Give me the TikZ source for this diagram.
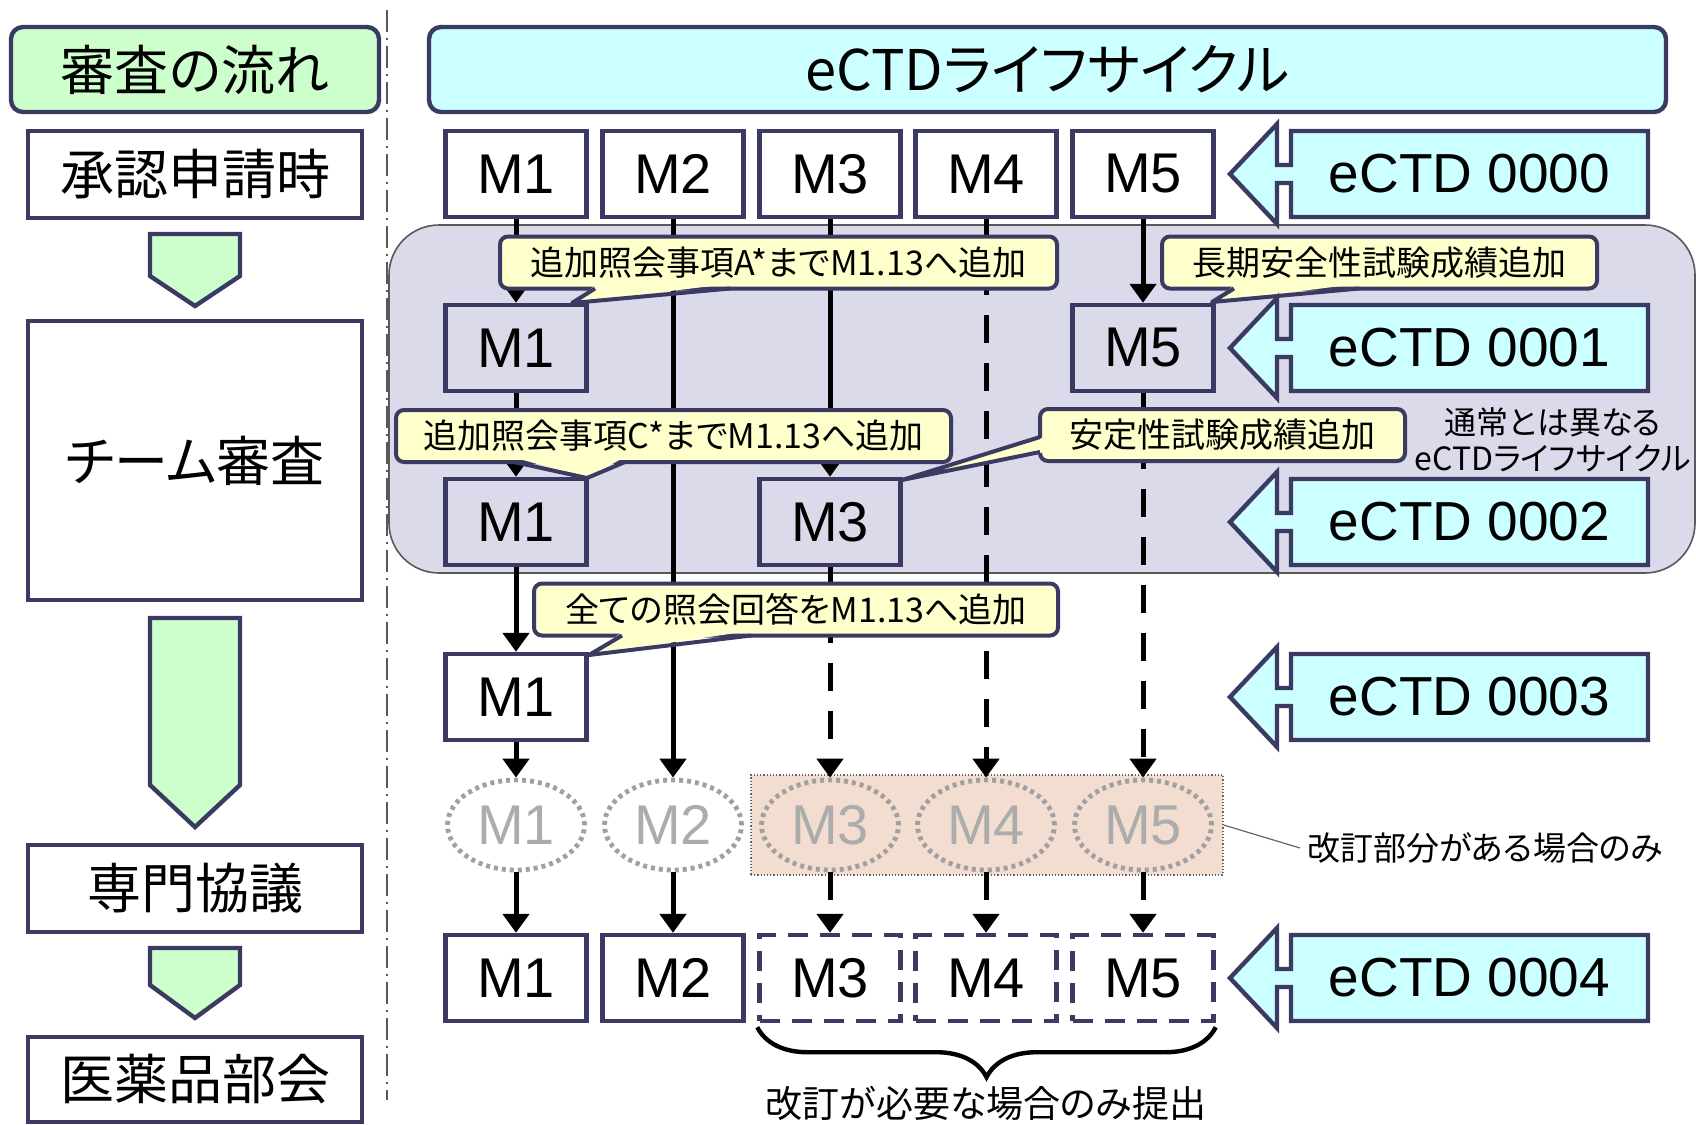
\documentclass[tikz,border=0pt]{standalone}
\usepackage{fontspec}
\setmainfont{Liberation Sans}
\newfontfamily\jp[RawFeature=+palt]{Noto Sans CJK JP}
\usetikzlibrary{arrows.meta,shapes.geometric,decorations.pathreplacing}

\definecolor{navy}{RGB}{58,58,98}
\definecolor{flowgreen}{RGB}{204,255,204}
\definecolor{lifecyan}{RGB}{204,255,255}
\definecolor{notefill}{RGB}{255,255,204}
\definecolor{regionfill}{RGB}{218,218,234}
\definecolor{bandfill}{RGB}{242,221,208}
\definecolor{ghostline}{RGB}{160,160,160}
\definecolor{ghosttext}{RGB}{172,172,172}

\begin{document}
\begin{tikzpicture}[x=0.5pt, y=-0.5pt]
        \tikzset{
            flowbox/.style={draw=navy, line width=2.2pt, fill=white, minimum width=167pt,
                inner sep=0pt, font=\jp\fontsize{27pt}{27pt}\selectfont},
            headbox/.style={flowbox, rounded corners=6pt, minimum height=42.5pt},
            flowarrow/.style={draw=navy, fill=flowgreen, line width=2.2pt},
            modbox/.style={draw=navy, line width=2.2pt, minimum width=70.5pt, minimum height=43pt,
                inner sep=0pt, font=\fontsize{28pt}{28pt}\selectfont},
            modboxdashed/.style={modbox, dash pattern=on 10pt off 6pt},
            ghost/.style={ellipse, draw=ghostline, line width=2.4pt, dash pattern=on 2pt off 2pt,
                text=ghosttext, minimum width=68.5pt, minimum height=45pt, inner sep=0pt,
                font=\fontsize{28pt}{28pt}\selectfont},
            link/.style={draw=black, line width=2.5pt, -{Triangle[width=13pt,length=9.5pt]}},
            linkdashed/.style={link, dash pattern=on 14pt off 10pt},
            note/.style={draw=navy, line width=2pt, fill=notefill, rounded corners=4pt,
                minimum height=26pt, inner sep=0pt, font=\jp\fontsize{17pt}{17pt}\selectfont},
            notelink/.style={draw=navy, line width=2pt, line join=round},
            tagshape/.style={draw=navy, fill=lifecyan, line width=2.2pt},
            taglabel/.style={font=\fontsize{27.5pt}{27.5pt}\selectfont},
            ectdtag/.pic={
                \draw[tagshape] (0,0) -- (47,-50) -- (47,-9) -- (61,-9) -- (61,-43) -- (418,-43)
                    -- (418,43) -- (61,43) -- (61,9) -- (47,9) -- (47,50) -- cycle;
            },
            region/.style={draw=black!65, line width=0.8pt, fill=regionfill, rounded corners=25pt},
            band/.style={draw=black!60, line width=0.6pt, densely dotted, fill=bandfill,
                minimum width=236pt, minimum height=50pt, inner sep=0pt},
            leader/.style={draw=black!60, line width=0.6pt},
            sidenote/.style={align=center, font=\jp\fontsize{16pt}{18pt}\selectfont},
            bracenote/.style={font=\jp\fontsize{18.5pt}{18.5pt}\selectfont},
            separator/.style={draw=black!65, line width=1.3pt, dash pattern=on 11pt off 3pt on 1pt off 3pt},
            braceline/.style={draw=black, line width=2.2pt, decorate,
                decoration={brace, mirror, amplitude=25pt}}
        }

        \useasboundingbox (0,0) rectangle (1696,1124);

        % background areas
        \draw[region] (389,225) rectangle (1695,573);
        \node[band] (revband) at (987,825) {};
        \draw[separator] (387,10) -- (387,1100);

        % review flow
        \node[headbox, fill=flowgreen, minimum width=184pt] (flowTitle) at (195,69.5) {審査の流れ};
        \node[flowbox, minimum height=43.5pt] (filing) at (195,174.5) {承認申請時};
        \node[flowbox, minimum height=139.5pt] (teamReview) at (195,460.5) {チーム審査};
        \node[flowbox, minimum height=43.5pt] (expert) at (195,888.5) {専門協議};
        \node[flowbox, minimum height=42.5pt] (council) at (195,1079.5) {医薬品部会};
        \draw[flowarrow] (150,234) -- (240,234) -- (240,276) -- (195,306) -- (150,276) -- cycle;
        \draw[flowarrow] (150,618) -- (240,618) -- (240,785) -- (195,827) -- (150,785) -- cycle;
        \draw[flowarrow] (150,948) -- (240,948) -- (240,985) -- (195,1018) -- (150,985) -- cycle;

        % eCTD lifecycle
        \node[headbox, fill=lifecyan, minimum width=618.5pt, font=\jp\fontsize{28pt}{28pt}\selectfont]
            (cycleTitle) at (1047.5,69.5) {eCTDライフサイクル};

        \node[modbox] (m1v0) at (516,174) {M1};
        \node[modbox] (m2v0) at (673,174) {M2};
        \node[modbox] (m3v0) at (830,174) {M3};
        \node[modbox] (m4v0) at (986,174) {M4};
        \node[modbox] (m5v0) at (1143,174) {M5};
        \node[modbox] (m1v1) at (516,348) {M1};
        \node[modbox] (m5v1) at (1143,348) {M5};
        \node[modbox] (m1v2) at (516,522) {M1};
        \node[modbox] (m3v2) at (830,522) {M3};
        \node[modbox] (m1v3) at (516,697) {M1};
        \node[ghost] (m1r) at (516,825) {M1};
        \node[ghost] (m2r) at (673,825) {M2};
        \node[ghost] (m3r) at (830,825) {M3};
        \node[ghost] (m4r) at (986,825) {M4};
        \node[ghost] (m5r) at (1143,825) {M5};
        \node[modbox] (m1v4) at (516,978) {M1};
        \node[modbox] (m2v4) at (673,978) {M2};
        \node[modboxdashed] (m3v4) at (830,978) {M3};
        \node[modboxdashed] (m4v4) at (986,978) {M4};
        \node[modboxdashed] (m5v4) at (1143,978) {M5};

        \draw[link] (m1v0.south) -- (m1v1.north);
        \draw[link] (m1v1.south) -- (m1v2.north);
        \draw[link] (m1v2.south) -- (m1v3.north);
        \draw[link] (m1v3.south) -- (m1r.north);
        \draw[link] (m1r.south) -- (m1v4.north);
        \draw[link] (m2v0.south) -- (m2r.north);
        \draw[link] (m2r.south) -- (m2v4.north);
        \draw[link] (m3v0.south) -- (m3v2.north);
        \draw[linkdashed] (m3v2.south) -- (m3r.north);
        \draw[linkdashed] (m3r.south) -- (m3v4.north);
        \draw[linkdashed] (m4v0.south) -- (m4r.north);
        \draw[linkdashed] (m4r.south) -- (m4v4.north);
        \draw[link] (m5v0.south) -- (m5v1.north);
        \draw[linkdashed] (m5v1.south) -- (m5r.north);
        \draw[linkdashed] (m5r.south) -- (m5v4.north);

        % callouts
        \node[note, minimum width=278.5pt] (noteA) at (778.5,262.5) {追加照会事項A*までM1.13へ追加};
        \fill[notefill] (597,284) -- (728,284) -- (572,303) -- cycle;
        \draw[notelink] (595,288.5) -- (572,303) -- (730,288.5);

        \node[note, minimum width=217.5pt] (noteLong) at (1379.5,262.5) {長期安全性試験成績追加};
        \fill[notefill] (1236,284) -- (1357,284) -- (1212,302) -- cycle;
        \draw[notelink] (1234,288.5) -- (1212,302) -- (1359,288.5);

        \node[note, minimum width=277.5pt] (noteC) at (673.5,436) {追加照会事項C*までM1.13へ追加};
        \fill[notefill] (516,458) -- (623,458) -- (587,478) -- cycle;
        \draw[notelink] (514,462) -- (587,478) -- (625,462);

        \node[note, minimum width=182.5pt] (noteStab) at (1222.5,435) {安定性試験成績追加};
        \fill[notefill] (1045,437) -- (1045,452) -- (902,480) -- cycle;
        \draw[notelink] (1040,437) -- (902,480) -- (1040,452);

        \node[note, minimum width=262pt] (noteAll) at (796,609.5) {全ての照会回答をM1.13へ追加};
        \fill[notefill] (624,631) -- (749,631) -- (589,655) -- cycle;
        \draw[notelink] (622,635.5) -- (589,655) -- (751,635.5);

        % sequence tags
        \pic at (1230,174) {ectdtag};
        \node[taglabel] (ver0) at (1469.5,174) {eCTD 0000};
        \pic at (1230,348) {ectdtag};
        \node[taglabel] (ver1) at (1469.5,348) {eCTD 0001};
        \pic at (1230,522) {ectdtag};
        \node[taglabel] (ver2) at (1469.5,522) {eCTD 0002};
        \pic at (1230,697) {ectdtag};
        \node[taglabel] (ver3) at (1469.5,697) {eCTD 0003};
        \pic at (1230,978) {ectdtag};
        \node[taglabel] (ver4) at (1469.5,978) {eCTD 0004};

        \node[sidenote] (unusual) at (1553,440) {通常とは異なる\\eCTDライフサイクル};

        \node[anchor=west, font=\jp\fontsize{16.5pt}{16.5pt}\selectfont] (revNote) at (1300,848) {改訂部分がある場合のみ};
        \draw[leader] (revband.east) -- (revNote.west);

        \draw[braceline] ([yshift=-2pt]m3v4.south west) -- ([yshift=-2pt]m5v4.south east);
        \node[bracenote] (submitNote) at (986,1103) {改訂が必要な場合のみ提出};
    \end{tikzpicture}
\end{document}
